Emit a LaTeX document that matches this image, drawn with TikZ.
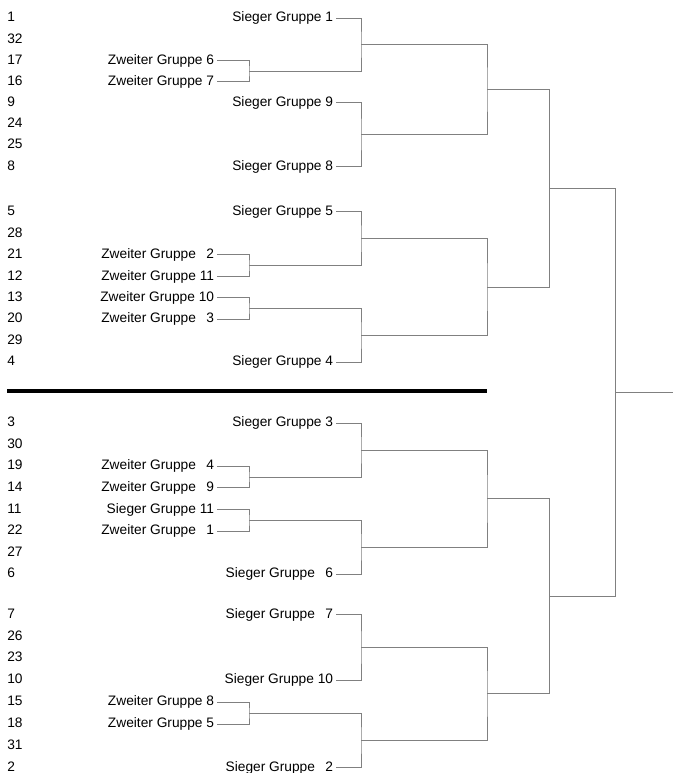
\documentclass[tikz,border=0pt]{standalone}
\usepackage{fontspec}
\setmainfont{Liberation Sans}
\usetikzlibrary{calc}

\definecolor{bracketGray}{RGB}{128,128,128}
% number right aligned in a two digit field
\newcommand\pad[1]{\hphantom{11}\llap{#1}}
% one match: name, x of the bracket, upper and lower entry
\newcommand\duel[4]{%
  \coordinate (#1m) at ($(#3)!0.5!(#4)$);
  \coordinate (#1) at (#2,0 |- #1m);
  \draw[bracket] (#3) -| (#1) |- (#4);}

\begin{document}
\begin{tikzpicture}[x=0.75pt,y=-0.75pt,
  font=\fontsize{10.3}{12}\selectfont,
  seednum/.style={anchor=west,inner sep=0pt,text height=7.5pt,text depth=2pt},
  grouplabel/.style={anchor=east,inner ysep=0pt,inner xsep=2pt,text height=7.5pt,text depth=2pt},
  bracket/.style={color=bracketGray,line width=0.75pt}]
\useasboundingbox (0,0) rectangle (673,773);
% seed numbers
\foreach \n [count=\i from 0] in {1,32,17,16,9,24,25,8}
  \node[seednum] (n\n) at (7,18.3+21.15*\i) {\n};
\foreach \n [count=\i from 0] in {5,28,21,12,13,20,29,4}
  \node[seednum] (n\n) at (7,212+21.45*\i) {\n};
\foreach \n [count=\i from 0] in {3,30,19,14,11,22,27,6}
  \node[seednum] (n\n) at (7,423+21.6*\i) {\n};
\foreach \n [count=\i from 0] in {7,26,23,10,15,18,31,2}
  \node[seednum] (n\n) at (7,614.5+21.9*\i) {\n};
% group labels
\node[grouplabel] (sg1) at (336,0 |- n1) {Sieger Gruppe 1};
\node[grouplabel] (zg6) at (217,0 |- n17) {Zweiter Gruppe 6};
\node[grouplabel] (zg7) at (217,0 |- n16) {Zweiter Gruppe 7};
\node[grouplabel] (sg9) at (336,0 |- n9) {Sieger Gruppe 9};
\node[grouplabel] (sg8) at (336,0 |- n8) {Sieger Gruppe 8};
\node[grouplabel] (sg5) at (336,0 |- n5) {Sieger Gruppe 5};
\node[grouplabel] (zg2) at (217,0 |- n21) {Zweiter Gruppe \pad{2}};
\node[grouplabel] (zg11) at (217,0 |- n12) {Zweiter Gruppe 11};
\node[grouplabel] (zg10) at (217,0 |- n13) {Zweiter Gruppe 10};
\node[grouplabel] (zg3) at (217,0 |- n20) {Zweiter Gruppe \pad{3}};
\node[grouplabel] (sg4) at (336,0 |- n4) {Sieger Gruppe 4};
\node[grouplabel] (sg3) at (336,0 |- n3) {Sieger Gruppe 3};
\node[grouplabel] (zg4) at (217,0 |- n19) {Zweiter Gruppe \pad{4}};
\node[grouplabel] (zg9) at (217,0 |- n14) {Zweiter Gruppe \pad{9}};
\node[grouplabel] (sg11) at (217,0 |- n11) {Sieger Gruppe 11};
\node[grouplabel] (zg1) at (217,0 |- n22) {Zweiter Gruppe \pad{1}};
\node[grouplabel] (sg6) at (336,0 |- n6) {Sieger Gruppe \pad{6}};
\node[grouplabel] (sg7) at (336,0 |- n7) {Sieger Gruppe \pad{7}};
\node[grouplabel] (sg10) at (336,0 |- n10) {Sieger Gruppe 10};
\node[grouplabel] (zg8) at (217,0 |- n15) {Zweiter Gruppe 8};
\node[grouplabel] (zg5) at (217,0 |- n18) {Zweiter Gruppe 5};
\node[grouplabel] (sg2) at (336,0 |- n2) {Sieger Gruppe \pad{2}};
% upper half
\duel{ta}{249}{zg6.east}{zg7.east}
\duel{tb}{361}{sg1.east}{ta}
\duel{tc}{361}{sg9.east}{sg8.east}
\duel{td}{487}{tb}{tc}
\duel{te}{249}{zg2.east}{zg11.east}
\duel{tf}{361}{sg5.east}{te}
\duel{tg}{249}{zg10.east}{zg3.east}
\duel{th}{361}{tg}{sg4.east}
\duel{ti}{487}{tf}{th}
\duel{tj}{549}{td}{ti}
% lower half
\duel{ba}{249}{zg4.east}{zg9.east}
\duel{bb}{361}{sg3.east}{ba}
\duel{bc}{249}{sg11.east}{zg1.east}
\duel{bd}{361}{bc}{sg6.east}
\duel{be}{487}{bb}{bd}
\duel{bf}{361}{sg7.east}{sg10.east}
\duel{bg}{249}{zg8.east}{zg5.east}
\duel{bh}{361}{bg}{sg2.east}
\duel{bi}{487}{bf}{bh}
\duel{bj}{549}{be}{bi}
% final
\duel{fin}{615}{tj}{bj}
\coordinate (champ) at (673,0 |- fin);
\draw[bracket] (fin) -- (champ);
% separator
\draw[line width=3.5pt] (7,391) -- (487,391);
\end{tikzpicture}
\end{document}
